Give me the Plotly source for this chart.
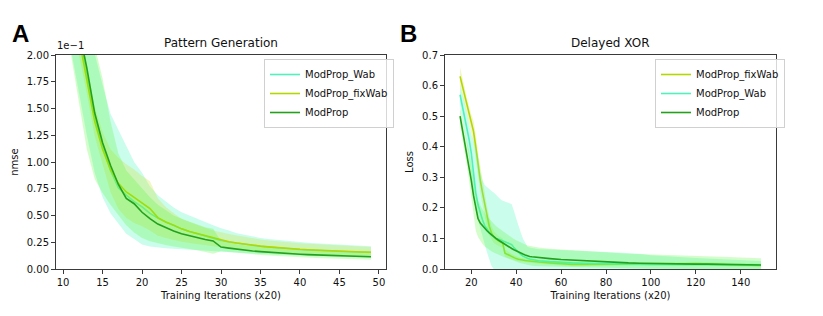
import plotly.graph_objects as go

# ---------------- Panel A: Pattern Generation (values in units of 1e-1) ----------------
xA = list(range(11, 50))

A_modprop = [2.6, 2.25, 1.88, 1.46, 1.18, 0.97, 0.79, 0.66, 0.61, 0.53,
             0.47, 0.42, 0.385, 0.355, 0.33, 0.31, 0.29, 0.275, 0.262, 0.205,
             0.195, 0.185, 0.175, 0.168, 0.162, 0.156, 0.151, 0.146, 0.142, 0.138,
             0.134, 0.131, 0.128, 0.125, 0.122, 0.12, 0.118, 0.116, 0.114]
A_modprop_lo = [2.0, 1.58, 1.12, 0.84, 0.71, 0.6, 0.5, 0.41, 0.34, 0.29,
                0.26, 0.24, 0.225, 0.21, 0.2, 0.19, 0.175, 0.16, 0.142,
                0.165, 0.157, 0.15, 0.143, 0.137, 0.131, 0.126, 0.121, 0.117, 0.113,
                0.109, 0.106, 0.103, 0.1, 0.097, 0.094, 0.091, 0.089, 0.087, 0.086]
A_modprop_hi = [3.0, 2.8, 2.45, 2.1, 1.78, 1.38, 1.08, 0.92, 0.84, 0.75,
                0.67, 0.6, 0.55, 0.5, 0.47, 0.44, 0.415, 0.39, 0.375,
                0.26, 0.245, 0.232, 0.222, 0.213, 0.205, 0.198, 0.192, 0.186, 0.181,
                0.176, 0.171, 0.167, 0.163, 0.16, 0.157, 0.154, 0.151, 0.148, 0.145]

A_fix = [2.55, 2.15, 1.78, 1.38, 1.12, 0.93, 0.8, 0.72, 0.67, 0.62,
         0.565, 0.48, 0.44, 0.41, 0.375, 0.35, 0.33, 0.31, 0.29, 0.268,
         0.255, 0.243, 0.232, 0.222, 0.214, 0.207, 0.2, 0.194, 0.189, 0.184,
         0.18, 0.176, 0.172, 0.169, 0.166, 0.163, 0.161, 0.159, 0.157]
A_fix_lo = [2.4, 2.0, 1.64, 1.24, 0.98, 0.72, 0.56, 0.48, 0.43, 0.4,
            0.36, 0.31, 0.29, 0.27, 0.255, 0.243, 0.232, 0.222, 0.212, 0.2,
            0.19, 0.182, 0.174, 0.167, 0.161, 0.155, 0.15, 0.145, 0.141, 0.137,
            0.134, 0.131, 0.128, 0.125, 0.123, 0.121, 0.119, 0.117, 0.115]
A_fix_hi = [2.7, 2.3, 1.92, 1.52, 1.28, 1.12, 1.04, 0.98, 0.93, 0.87,
            0.82, 0.66, 0.58, 0.52, 0.47, 0.44, 0.41, 0.385, 0.36, 0.345,
            0.328, 0.312, 0.298, 0.286, 0.275, 0.266, 0.258, 0.251, 0.245, 0.24,
            0.235, 0.23, 0.226, 0.222, 0.218, 0.214, 0.211, 0.208, 0.205]

A_wab = [2.58, 2.2, 1.83, 1.42, 1.15, 0.92, 0.76, 0.69, 0.63, 0.58,
         0.52, 0.475, 0.44, 0.405, 0.375, 0.35, 0.328, 0.308, 0.288, 0.266,
         0.253, 0.241, 0.23, 0.22, 0.212, 0.205, 0.198, 0.192, 0.187, 0.182,
         0.178, 0.174, 0.17, 0.167, 0.164, 0.161, 0.159, 0.157, 0.155]
A_wab_lo = [2.05, 1.65, 1.25, 0.9, 0.67, 0.52, 0.42, 0.33, 0.28, 0.23,
            0.21, 0.2, 0.195, 0.19, 0.185, 0.18, 0.176, 0.172, 0.168, 0.165,
            0.16, 0.155, 0.15, 0.145, 0.141, 0.137, 0.133, 0.13, 0.127, 0.124,
            0.121, 0.118, 0.116, 0.114, 0.112, 0.11, 0.108, 0.106, 0.105]
A_wab_hi = [2.9, 2.7, 2.4, 2.05, 1.72, 1.45, 1.3, 1.15, 1.0, 0.9,
            0.77, 0.69, 0.63, 0.575, 0.53, 0.5, 0.47, 0.44, 0.41, 0.38,
            0.36, 0.335, 0.32, 0.305, 0.29, 0.28, 0.272, 0.265, 0.258, 0.252,
            0.246, 0.24, 0.235, 0.23, 0.226, 0.222, 0.218, 0.215, 0.212]

# ---------------- Panel B: Delayed XOR ----------------
xB = list(range(15, 51)) + list(range(55, 146, 5)) + [149]

B_modprop = [0.5, 0.46, 0.42, 0.38, 0.34, 0.29, 0.24, 0.195, 0.165, 0.15,
             0.141, 0.133, 0.125, 0.118, 0.111, 0.105, 0.1, 0.095, 0.09, 0.085,
             0.08, 0.076, 0.072, 0.067, 0.063, 0.059, 0.055, 0.052, 0.049, 0.046,
             0.043, 0.041, 0.04, 0.039, 0.038, 0.037,
             0.034, 0.031, 0.029, 0.026, 0.024, 0.022, 0.021, 0.02, 0.019, 0.018,
             0.018, 0.017, 0.017, 0.016, 0.016, 0.015, 0.015, 0.014, 0.014, 0.013]
B_modprop_lo = [0.47, 0.43, 0.385, 0.34, 0.29, 0.23, 0.17, 0.125, 0.105, 0.092,
                0.082, 0.074, 0.068, 0.063, 0.058, 0.054, 0.05, 0.047, 0.044, 0.041,
                0.038, 0.035, 0.032, 0.029, 0.026, 0.024, 0.021, 0.019, 0.017, 0.015,
                0.013, 0.012, 0.011, 0.01, 0.01, 0.009,
                0.008, 0.007, 0.006, 0.005, 0.004, 0.003, 0.003, 0.002, 0.002, 0.001,
                0.001, 0.0, 0.0, 0.0, 0.0, 0.0, 0.0, 0.0, 0.0, 0.0]
B_modprop_hi = [0.53, 0.49, 0.455, 0.42, 0.39, 0.35, 0.3, 0.25, 0.225, 0.208,
                0.195, 0.183, 0.172, 0.163, 0.155, 0.148, 0.141, 0.135, 0.129, 0.123,
                0.118, 0.113, 0.108, 0.103, 0.098, 0.094, 0.09, 0.086, 0.083, 0.08,
                0.077, 0.075, 0.073, 0.072, 0.071, 0.07,
                0.066, 0.063, 0.06, 0.058, 0.056, 0.054, 0.052, 0.05, 0.048, 0.046,
                0.045, 0.044, 0.043, 0.042, 0.041, 0.04, 0.039, 0.038, 0.037, 0.035]

B_wab = [0.57, 0.535, 0.5, 0.46, 0.425, 0.38, 0.31, 0.25, 0.21, 0.18,
         0.16, 0.142, 0.13, 0.12, 0.111, 0.104, 0.1, 0.098, 0.095, 0.093,
         0.091, 0.088, 0.085, 0.08, 0.07, 0.062, 0.055, 0.048, 0.042, 0.038,
         0.035, 0.033, 0.031, 0.029, 0.028, 0.027,
         0.024, 0.021, 0.02, 0.019, 0.018, 0.018, 0.017, 0.016, 0.016, 0.015,
         0.015, 0.015, 0.014, 0.014, 0.014, 0.014, 0.013, 0.013, 0.013, 0.013]
B_wab_lo = [0.54, 0.5, 0.455, 0.41, 0.36, 0.3, 0.23, 0.19, 0.16, 0.13,
            0.1, 0.08, 0.055, 0.035, 0.01, 0.0, 0.0, 0.0, 0.0, 0.0,
            0.0, 0.0, 0.0, 0.0, 0.0, 0.0, 0.0, 0.0, 0.0, 0.0,
            0.0, 0.0, 0.0, 0.0, 0.0, 0.0,
            0.0, 0.0, 0.0, 0.0, 0.0, 0.0, 0.0, 0.0, 0.0, 0.0,
            0.0, 0.0, 0.0, 0.0, 0.0, 0.0, 0.0, 0.0, 0.0, 0.0]
B_wab_hi = [0.6, 0.57, 0.545, 0.51, 0.48, 0.44, 0.42, 0.4, 0.37, 0.32,
            0.29, 0.275, 0.268, 0.262, 0.255, 0.25, 0.245, 0.235, 0.228, 0.223,
            0.22, 0.217, 0.215, 0.212, 0.19, 0.165, 0.14, 0.12, 0.1, 0.085,
            0.073, 0.07, 0.068, 0.067, 0.066, 0.065,
            0.064, 0.063, 0.062, 0.06, 0.058, 0.056, 0.054, 0.053, 0.05, 0.045,
            0.042, 0.04, 0.038, 0.036, 0.034, 0.032, 0.03, 0.028, 0.027, 0.026]

B_fix = [0.63, 0.6, 0.565, 0.53, 0.5, 0.475, 0.45, 0.4, 0.34, 0.29,
         0.25, 0.21, 0.17, 0.14, 0.118, 0.105, 0.098, 0.092, 0.088, 0.085,
         0.052, 0.048, 0.044, 0.04, 0.037, 0.034, 0.032, 0.03, 0.029, 0.028,
         0.027, 0.026, 0.025, 0.024, 0.024, 0.023,
         0.02, 0.017, 0.015, 0.015, 0.015, 0.016, 0.016, 0.015, 0.015, 0.015,
         0.015, 0.016, 0.017, 0.018, 0.016, 0.015, 0.014, 0.013, 0.013, 0.012]
B_fix_lo = [0.6, 0.57, 0.535, 0.5, 0.47, 0.445, 0.415, 0.36, 0.3, 0.25,
            0.21, 0.17, 0.135, 0.11, 0.095, 0.085, 0.08, 0.075, 0.072, 0.07,
            0.04, 0.037, 0.034, 0.031, 0.029, 0.027, 0.025, 0.024, 0.023, 0.022,
            0.021, 0.02, 0.019, 0.018, 0.018, 0.017,
            0.014, 0.011, 0.009, 0.009, 0.009, 0.01, 0.01, 0.009, 0.009, 0.009,
            0.009, 0.01, 0.011, 0.012, 0.01, 0.009, 0.008, 0.007, 0.007, 0.006]
B_fix_hi = [0.66, 0.63, 0.595, 0.56, 0.53, 0.505, 0.485, 0.44, 0.38, 0.33,
            0.29, 0.25, 0.205, 0.17, 0.141, 0.125, 0.116, 0.109, 0.104, 0.1,
            0.064, 0.059, 0.054, 0.049, 0.045, 0.041, 0.039, 0.036, 0.035, 0.034,
            0.033, 0.032, 0.031, 0.03, 0.03, 0.029,
            0.026, 0.023, 0.021, 0.021, 0.021, 0.022, 0.022, 0.021, 0.021, 0.021,
            0.021, 0.022, 0.023, 0.024, 0.022, 0.021, 0.02, 0.019, 0.019, 0.018]

# ---------------- styles ----------------
C_WAB, F_WAB = "#4ff2bd", "rgba(80,250,190,0.30)"
C_FIX, F_FIX = "#b5d600", "rgba(205,225,60,0.30)"
C_MOD, F_MOD = "#23a01c", "rgba(80,248,40,0.24)"
FONT = "DejaVu Sans"

fig = go.Figure()


def add_series(x, mean, lo, hi, name, color, fill, xa, ya, legend):
    fig.add_trace(go.Scatter(
        x=x + x[::-1], y=lo + hi[::-1], fill="toself", fillcolor=fill,
        line=dict(width=0), mode="lines", hoverinfo="skip", showlegend=False,
        xaxis=xa, yaxis=ya))
    fig.add_trace(go.Scatter(
        x=x, y=mean, mode="lines", name=name, line=dict(color=color, width=1.6),
        xaxis=xa, yaxis=ya, legend=legend))


# Panel A order: Wab, fixWab, ModProp
add_series(xA, A_wab, A_wab_lo, A_wab_hi, "ModProp_Wab", C_WAB, F_WAB, "x", "y", "legend")
add_series(xA, A_fix, A_fix_lo, A_fix_hi, "ModProp_fixWab", C_FIX, F_FIX, "x", "y", "legend")
add_series(xA, A_modprop, A_modprop_lo, A_modprop_hi, "ModProp", C_MOD, F_MOD, "x", "y", "legend")

# Panel B order: fixWab, Wab, ModProp
add_series(xB, B_fix, B_fix_lo, B_fix_hi, "ModProp_fixWab", C_FIX, F_FIX, "x2", "y2", "legend2")
add_series(xB, B_wab, B_wab_lo, B_wab_hi, "ModProp_Wab", C_WAB, F_WAB, "x2", "y2", "legend2")
add_series(xB, B_modprop, B_modprop_lo, B_modprop_hi, "ModProp", C_MOD, F_MOD, "x2", "y2", "legend2")

W, H = 823, 316
y_dom = [(H - 269) / H, (H - 55) / H]

axis_common = dict(showline=True, mirror=True, linecolor="#3a3a3a", linewidth=1,
                   ticks="outside", ticklen=4, tickcolor="#3a3a3a", tickwidth=1,
                   showgrid=False, zeroline=False, automargin=False,
                   tickfont=dict(family=FONT, size=10, color="#111"))

legend_common = dict(xanchor="left", yanchor="top", bgcolor="rgba(255,255,255,0.8)",
                     bordercolor="#d0d0d0", borderwidth=1, tracegroupgap=0, itemwidth=30,
                     font=dict(family=FONT, size=10, color="#111"))

fig.update_layout(
    width=W, height=H, margin=dict(l=0, r=0, t=0, b=0, autoexpand=False),
    paper_bgcolor="white", plot_bgcolor="white",
    font=dict(family=FONT, size=10, color="#111"),
    xaxis=dict(domain=[56 / W, 386 / W], range=[9.1, 50.9], tickvals=[10, 15, 20, 25, 30, 35, 40, 45, 50],
               title=dict(text="Training Iterations (x20)", font=dict(size=10), standoff=4), anchor="y",
               **axis_common),
    yaxis=dict(domain=y_dom, range=[0, 2.0], tickvals=[0, 0.25, 0.5, 0.75, 1.0, 1.25, 1.5, 1.75, 2.0],
               tickformat=".2f", title=dict(text="nmse", font=dict(size=10), standoff=6), anchor="x",
               **axis_common),
    xaxis2=dict(domain=[445 / W, 776 / W], range=[8.3, 155.7], tickvals=[20, 40, 60, 80, 100, 120, 140],
                title=dict(text="Training Iterations (x20)", font=dict(size=10), standoff=4), anchor="y2",
                **axis_common),
    yaxis2=dict(domain=y_dom, range=[0, 0.7], tickvals=[0, 0.1, 0.2, 0.3, 0.4, 0.5, 0.6, 0.7],
                tickformat=".1f", title=dict(text="Loss", font=dict(size=10), standoff=6), anchor="x2",
                **axis_common),
    legend=dict(x=264 / W, y=(H - 59) / H, **legend_common),
    legend2=dict(x=655 / W, y=(H - 59) / H, **legend_common),
    annotations=[
        dict(text="<b>A</b>", x=10 / W, y=(H - 18) / H, xref="paper", yref="paper",
             xanchor="left", yanchor="top", showarrow=False,
             font=dict(family="Liberation Sans", size=24, color="black")),
        dict(text="<b>B</b>", x=398 / W, y=(H - 18) / H, xref="paper", yref="paper",
             xanchor="left", yanchor="top", showarrow=False,
             font=dict(family="Liberation Sans", size=24, color="black")),
        dict(text="Pattern Generation", x=221 / W, y=(H - 52) / H, xref="paper", yref="paper",
             xanchor="center", yanchor="bottom", showarrow=False, font=dict(size=12)),
        dict(text="Delayed XOR", x=610 / W, y=(H - 52) / H, xref="paper", yref="paper",
             xanchor="center", yanchor="bottom", showarrow=False, font=dict(size=12)),
        dict(text="1e\u22121", x=55 / W, y=(H - 53) / H, xref="paper", yref="paper",
             xanchor="left", yanchor="bottom", showarrow=False, font=dict(size=10)),
    ],
)

fig.write_html("out.html", config={"displayModeBar": False},
               post_script="document.body.style.margin='0';")
